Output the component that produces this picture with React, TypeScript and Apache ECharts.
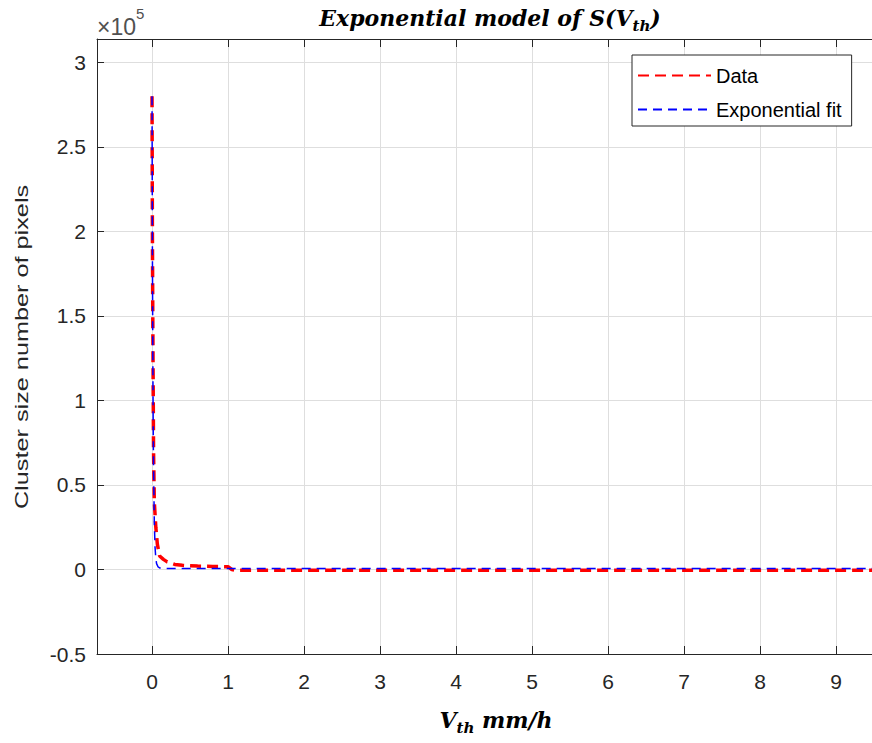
import React, { useEffect, useRef } from "react";
import * as echarts from "echarts";

// Measured data (cluster size, number of pixels) vs threshold V_th (mm/h)
const dataX = [0, 0.005, 0.01, 0.02, 0.03, 0.05, 0.07, 0.1, 0.15, 0.2, 0.3, 0.4, 0.5, 0.6, 0.7, 0.8, 0.9, 1.0, 1.05, 1.1, 1.5, 2, 3, 4, 5, 6, 7, 8, 9, 9.5];
const dataY = [280000, 200000, 150000, 70000, 40000, 25000, 15000, 8000, 6000, 4500, 3000, 2500, 2200, 2000, 1900, 1800, 1700, 1600, 0, -500, -500, -500, -500, -500, -500, -500, -500, -500, -500, -500];

// Exponential fit
const fitX = [0, 0.005, 0.01, 0.015, 0.02, 0.03, 0.04, 0.05, 0.06, 0.08, 0.1, 0.15, 0.2, 0.3, 0.5, 1, 2, 3, 4, 5, 6, 7, 8, 9, 9.5];
const fitY = [280000, 190000, 130000, 88000, 60000, 28000, 13000, 6500, 3500, 1500, 900, 650, 600, 600, 600, 600, 600, 600, 600, 600, 600, 600, 600, 600, 600];

const seriesNames = ["Data", "Exponential fit"];

const X_MIN = -0.724;
const X_MAX = 9.5;
const Y_MIN = -50000;
const Y_MAX = 313900;
const Y_STEP = 50000;

const SANS = "'Liberation Sans', Arial, sans-serif";
const SERIF = "'DejaVu Serif', serif";
const AXIS_COLOR = "#262626";
const GRID_COLOR = "#dedede";

export default function App() {
  const ref = useRef<HTMLDivElement>(null);

  useEffect(() => {
    if (!ref.current) return;
    const chart = echarts.init(ref.current, null, { renderer: "svg" });

    const dataPairs = dataX.map((x, i) => [x, dataY[i]]);
    const fitPairs = fitX.map((x, i) => [x, fitY[i]]);

    const xBase = {
      type: "value",
      min: X_MIN,
      max: X_MAX,
      splitNumber: 10,
    };

    chart.setOption({
      animation: false,
      backgroundColor: "#ffffff",
      grid: { left: 97, top: 39, right: 6, bottom: 89, containLabel: false },
      title: {
        text: "{b|Exponential model of S(V}{s|th}{b|)}",
        left: 485,
        textAlign: "center",
        top: -2,
        textStyle: {
          rich: {
            b: {
              fontFamily: SERIF,
              fontWeight: "bold",
              fontStyle: "italic",
              fontSize: 22,
              color: "#000",
              lineHeight: 30,
            },
            s: {
              fontFamily: SERIF,
              fontWeight: "bold",
              fontStyle: "italic",
              fontSize: 15,
              color: "#000",
              lineHeight: 15,
              verticalAlign: "bottom",
            },
          },
        },
      },
      legend: {
        orient: "vertical",
        left: 632,
        top: 55,
        padding: [10, 10, 6, 5],
        itemGap: 13,
        itemWidth: 73,
        itemHeight: 4,
        backgroundColor: "#ffffff",
        borderColor: AXIS_COLOR,
        borderWidth: 1,
        data: seriesNames,
        itemStyle: { opacity: 0 },
        textStyle: { fontFamily: SANS, fontSize: 20, color: "#000", lineHeight: 21 },
      },
      xAxis: [
        {
          ...xBase,
          position: "bottom",
          axisLine: { show: true, onZero: false, lineStyle: { color: AXIS_COLOR, width: 1 } },
          axisTick: { show: true, inside: true, length: 8, lineStyle: { color: AXIS_COLOR } },
          axisLabel: {
            margin: 17,
            fontFamily: SANS,
            fontSize: 21,
            color: AXIS_COLOR,
            showMinLabel: false,
            showMaxLabel: false,
            formatter: (v: number) => (Math.abs(v - Math.round(v)) < 1e-9 ? String(Math.round(v)) : ""),
          },
          splitLine: { show: true, lineStyle: { color: GRID_COLOR, width: 1 } },
        },
        {
          ...xBase,
          position: "top",
          axisLine: { show: true, onZero: false, lineStyle: { color: AXIS_COLOR, width: 1 } },
          axisTick: { show: true, inside: true, length: 8, lineStyle: { color: AXIS_COLOR } },
          axisLabel: { show: false },
          splitLine: { show: false },
        },
      ],
      yAxis: {
        type: "value",
        min: Y_MIN,
        max: Y_MAX,
        interval: Y_STEP,
        axisLine: { show: true, onZero: false, lineStyle: { color: AXIS_COLOR, width: 1 } },
        axisTick: { show: true, inside: true, length: 7, lineStyle: { color: AXIS_COLOR } },
        axisLabel: {
          margin: 11,
          fontFamily: SANS,
          fontSize: 21,
          color: AXIS_COLOR,
          formatter: (v: number) => {
            const k = v / Y_STEP;
            return Math.abs(k - Math.round(k)) < 1e-9 ? String(Math.round(k) * Y_STEP / 100000) : "";
          },
        },
        splitLine: { show: true, lineStyle: { color: GRID_COLOR, width: 1 } },
      },
      series: [
        {
          name: seriesNames[0],
          type: "line",
          xAxisIndex: 0,
          data: dataPairs,
          showSymbol: false,
          symbol: "none",
          lineStyle: { color: "#ff0000", width: 3.5, type: [11, 6] },
          itemStyle: { color: "#ff0000" },
          z: 2,
        },
        {
          name: seriesNames[1],
          type: "line",
          xAxisIndex: 0,
          data: fitPairs,
          showSymbol: false,
          symbol: "none",
          lineStyle: { color: "#0000ff", width: 1.5, type: [9, 6] },
          itemStyle: { color: "#0000ff" },
          z: 3,
        },
      ],
      graphic: [
        {
          type: "text",
          x: 97,
          y: 6,
          style: {
            text: "{a|×10}{sup|5}",
            rich: {
              a: { fontFamily: SANS, fontSize: 23, fill: "#505050", lineHeight: 32, verticalAlign: "bottom" },
              sup: { fontFamily: SANS, fontSize: 15, fill: "#505050", lineHeight: 16, verticalAlign: "top" },
            },
          },
        },
        {
          type: "text",
          x: 22,
          y: 347,
          rotation: Math.PI / 2,
          scaleX: 1.33,
          style: {
            text: "Cluster size number of pixels",
            fontFamily: SANS,
            fontSize: 19,
            fill: "#262626",
            align: "center",
            verticalAlign: "middle",
          },
        },
        {
          type: "text",
          x: 496,
          y: 720,
          style: {
            text: "{b|V}{s|th}{b| mm/h}",
            align: "center",
            verticalAlign: "middle",
            rich: {
              b: { fontFamily: SERIF, fontWeight: "bold", fontStyle: "italic", fontSize: 22, fill: "#000", lineHeight: 30 },
              s: { fontFamily: SERIF, fontWeight: "bold", fontStyle: "italic", fontSize: 15, fill: "#000", lineHeight: 15, verticalAlign: "bottom" },
            },
          },
        },
      ],
    });

    return () => chart.dispose();
  }, []);

  return (
    <div style={{ position: "fixed", left: 0, top: 0, width: 872, height: 743, overflow: "hidden", background: "#fff" }}>
      <div ref={ref} style={{ width: 880, height: 743 }} />
    </div>
  );
}
